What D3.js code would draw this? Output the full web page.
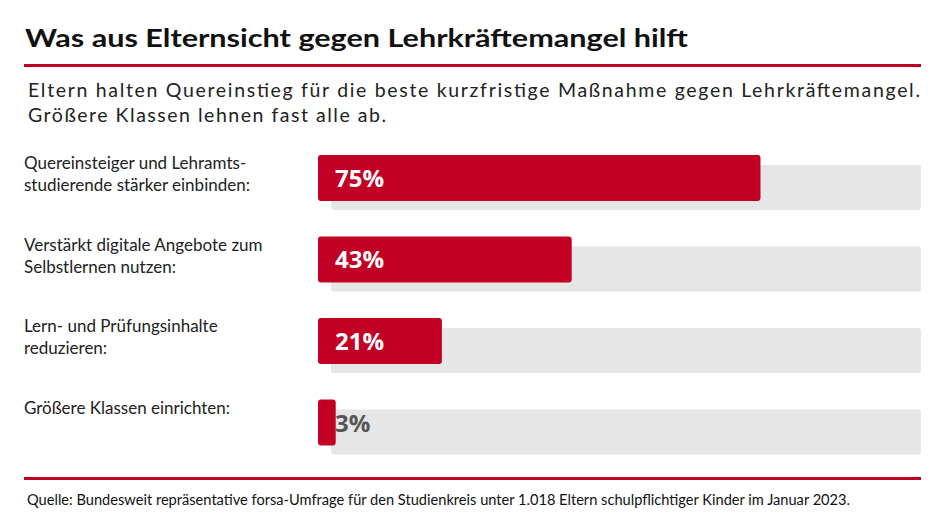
<!DOCTYPE html>
<html>
<head>
<meta charset="utf-8">
<script src="https://cdn.jsdelivr.net/npm/d3@7"></script>
<style>
  body { margin: 0; background: #fff; }
  svg { display: block; font-family: Lato, "Open Sans", sans-serif; }
</style>
</head>
<body>
<div id="chart"></div>
<script>
// data read from the graphic
const labels = [
  ["Quereinsteiger und Lehramts-", "studierende stärker einbinden:"],
  ["Verstärkt digitale Angebote zum", "Selbstlernen nutzen:"],
  ["Lern- und Prüfungsinhalte", "reduzieren:"],
  ["Größere Klassen einrichten:"]
];
const values = [75, 43, 21, 3];
const valueLabels = ["75%", "43%", "21%", "3%"];

const title = "Was aus Elternsicht gegen Lehrkräftemangel hilft";
const subtitle = [
  "Eltern halten Quereinstieg für die beste kurzfristige Maßnahme gegen Lehrkräftemangel.",
  "Größere Klassen lehnen fast alle ab."
];
const source = "Quelle: Bundesweit repräsentative forsa-Umfrage für den Studienkreis unter 1.018 Eltern schulpflichtiger Kinder im Januar 2023.";

const width = 945, height = 531;
const red = "#c20023", grey = "#e6e6e6";
const subWidths = [892, 358];

const svg = d3.select("#chart").append("svg")
  .attr("width", width)
  .attr("height", height);

// header
svg.append("text")
  .attr("x", 25).attr("y", 47)
  .attr("font-size", 25).attr("font-weight", 700)
  .attr("fill", "#111")
  .attr("textLength", 663).attr("lengthAdjust", "spacingAndGlyphs")
  .text(title);

svg.append("rect")
  .attr("x", 24).attr("y", 64).attr("width", 897).attr("height", 3)
  .attr("fill", red);

svg.selectAll(".sub").data(subtitle).enter().append("text")
  .attr("class", "sub")
  .attr("x", 28)
  .attr("y", (d, i) => 97 + i * 25)
  .attr("font-size", 19.5)
  .attr("fill", "#222")
  .attr("textLength", (d, i) => subWidths[i]).attr("lengthAdjust", "spacing")
  .text(d => d);

// bars
const x = d3.scaleLinear().domain([0, 100]).range([318, 908]);
const y = d3.scaleBand().domain(d3.range(values.length)).range([155, 445.5]).paddingInner(0.436).paddingOuter(0);

const row = svg.selectAll(".row").data(values).enter().append("g")
  .attr("class", "row")
  .attr("transform", (d, i) => "translate(0," + y(i) + ")");

row.append("rect")
  .attr("x", x(0) + 13).attr("y", 10)
  .attr("width", x(100) - x(0)).attr("height", y.bandwidth() - 1)
  .attr("rx", 3)
  .attr("fill", grey);

row.append("rect")
  .attr("x", x(0)).attr("y", 0)
  .attr("width", d => Math.max(x(d) - x(0), 14)).attr("height", y.bandwidth())
  .attr("rx", 3)
  .attr("fill", red);

row.append("text")
  .attr("x", x(0) + 17)
  .attr("y", y.bandwidth() / 2 + 9)
  .attr("font-family", "'Open Sans', sans-serif")
  .attr("font-weight", 700)
  .attr("font-size", 24)
  .attr("fill", d => d < 10 ? "#555" : "#fff")
  .text((d, i) => valueLabels[i]);

// category labels
const lab = svg.selectAll(".lab").data(labels).enter().append("text")
  .attr("class", "lab")
  .attr("x", 24)
  .attr("y", (d, i) => y(i) + 14)
  .attr("font-size", 17)
  .attr("fill", "#222");

lab.selectAll("tspan").data(d => d).enter().append("tspan")
  .attr("x", 24)
  .attr("dy", (d, i) => i === 0 ? 0 : 22)
  .text(d => d);

// footer
svg.append("rect")
  .attr("x", 24).attr("y", 477).attr("width", 897).attr("height", 3)
  .attr("fill", red);

svg.append("text")
  .attr("x", 27).attr("y", 505)
  .attr("font-size", 14.5)
  .attr("fill", "#111")
  .attr("textLength", 823).attr("lengthAdjust", "spacingAndGlyphs")
  .text(source);
</script>
</body>
</html>
